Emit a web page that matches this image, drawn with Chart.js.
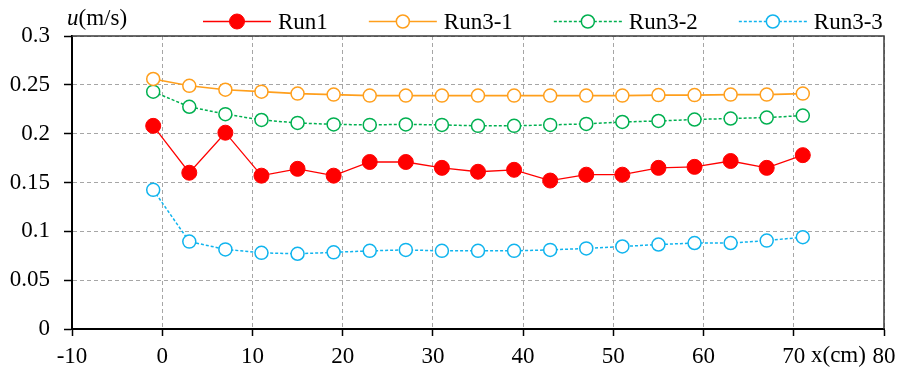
<!DOCTYPE html>
<html>
<head>
<meta charset="utf-8">
<script src="https://cdn.jsdelivr.net/npm/chart.js@4/dist/chart.umd.min.js"></script>
<style>
  html, body { margin: 0; padding: 0; background: #fff; }
  canvas { display: block; }
</style>
</head>
<body>
<canvas id="c" width="898" height="372"></canvas>
<script>
// ---- data ----
const xPositions = [-1, 3, 7, 11, 15, 19, 23, 27, 31, 35, 39, 43, 47, 51, 55, 59, 63, 67, 71];
const run1   = [0.208, 0.160, 0.201, 0.157, 0.164, 0.157, 0.171, 0.171, 0.165, 0.161, 0.163, 0.152, 0.158, 0.158, 0.165, 0.166, 0.172, 0.165, 0.178];
const run3_1 = [0.256, 0.249, 0.245, 0.243, 0.241, 0.240, 0.239, 0.239, 0.239, 0.239, 0.239, 0.239, 0.239, 0.239, 0.2395, 0.2395, 0.240, 0.240, 0.241];
const run3_2 = [0.243, 0.2275, 0.220, 0.214, 0.211, 0.2095, 0.209, 0.2095, 0.209, 0.208, 0.208, 0.209, 0.210, 0.212, 0.213, 0.2145, 0.2155, 0.2165, 0.2185];
const run3_3 = [0.1425, 0.0895, 0.0815, 0.078, 0.077, 0.0785, 0.080, 0.081, 0.080, 0.080, 0.080, 0.081, 0.0825, 0.0845, 0.0865, 0.088, 0.088, 0.0905, 0.094];
const seriesLabels = ['Run1', 'Run3-1', 'Run3-2', 'Run3-3'];
const xTicks = [-10, 0, 10, 20, 30, 40, 50, 60, 70, 80];
const yTicks = [0, 0.05, 0.1, 0.15, 0.2, 0.25, 0.3];
const yTickLabels = ['0', '0.05', '0.1', '0.15', '0.2', '0.25', '0.3'];
const yTitle = ['u', '(m/s)'];
const xTitle = 'x(cm)';

const FONT = '"Liberation Serif", "Times New Roman", serif';
const toPts = arr => arr.map((v, i) => ({ x: xPositions[i], y: v }));

const legendPlugin = {
  id: 'customLegend',
  afterDraw(chart) {
    const ctx = chart.ctx;
    ctx.save();
    ctx.font = '23px ' + FONT;
    let x = 203;
    const y = 21.5;
    const lineLen = 68;
    chart.data.datasets.forEach(ds => {
      ctx.strokeStyle = ds.borderColor;
      ctx.lineWidth = ds.borderWidth;
      ctx.setLineDash(ds.borderDash || []);
      ctx.beginPath(); ctx.moveTo(x, y); ctx.lineTo(x + lineLen, y); ctx.stroke();
      ctx.setLineDash([]);
      ctx.beginPath();
      ctx.arc(x + lineLen / 2, y, ds.pointRadius, 0, Math.PI * 2);
      ctx.fillStyle = ds.pointBackgroundColor; ctx.fill();
      ctx.lineWidth = ds.pointBorderWidth; ctx.strokeStyle = ds.pointBorderColor; ctx.stroke();
      ctx.fillStyle = '#000';
      ctx.textBaseline = 'alphabetic';
      ctx.textAlign = 'left';
      ctx.fillText(ds.label, x + lineLen + 7, 28.5);
      x += lineLen + 7 + ctx.measureText(ds.label).width + 41;
    });
    ctx.restore();
  }
};

const framePlugin = {
  id: 'frame',
  afterDraw(chart) {
    const { ctx, chartArea: a } = chart;
    ctx.save();
    ctx.strokeStyle = '#3a3a3a';
    ctx.lineWidth = 1.5;
    ctx.beginPath();
    ctx.moveTo(a.left, a.top); ctx.lineTo(a.right, a.top); ctx.lineTo(a.right, a.bottom);
    ctx.stroke();
    // titles
    ctx.fillStyle = '#000';
    ctx.textBaseline = 'alphabetic';
    ctx.textAlign = 'left';
    ctx.font = 'italic 23px ' + FONT;
    ctx.fillText(yTitle[0], 67, 25);
    const w = ctx.measureText(yTitle[0]).width;
    ctx.font = '23px ' + FONT;
    ctx.fillText(yTitle[1], 67 + w, 25);
    ctx.fillText(xTitle, 811, 362);
    ctx.restore();
  }
};

new Chart(document.getElementById('c'), {
  type: 'line',
  data: {
    datasets: [
      { label: seriesLabels[0], data: toPts(run1), borderColor: '#FF0000', borderWidth: 1.3,
        pointRadius: 7.5, pointBackgroundColor: '#FF0000', pointBorderColor: '#FF0000', pointBorderWidth: 1, borderDash: [] },
      { label: seriesLabels[1], data: toPts(run3_1), borderColor: '#FF9F1C', borderWidth: 1.6,
        pointRadius: 6.5, pointBackgroundColor: '#FFFFFF', pointBorderColor: '#FF9F1C', pointBorderWidth: 1.5, borderDash: [] },
      { label: seriesLabels[2], data: toPts(run3_2), borderColor: '#00B050', borderWidth: 1.5,
        pointRadius: 6.5, pointBackgroundColor: '#FFFFFF', pointBorderColor: '#00B050', pointBorderWidth: 1.5, borderDash: [3, 2] },
      { label: seriesLabels[3], data: toPts(run3_3), borderColor: '#10B4EE', borderWidth: 1.5,
        pointRadius: 6.5, pointBackgroundColor: '#FFFFFF', pointBorderColor: '#10B4EE', pointBorderWidth: 1.5, borderDash: [3, 2] }
    ]
  },
  options: {
    responsive: false,
    animation: false,
    events: [],
    layout: { padding: { top: 36, right: 14, left: 0, bottom: 0 } },
    plugins: { legend: { display: false }, tooltip: { enabled: false }, title: { display: false } },
    scales: {
      x: {
        type: 'linear', min: -10, max: 80,
        afterFit(s) { s.height = 43; s.paddingLeft = 0; s.paddingRight = 0; },
        afterBuildTicks(s) { s.ticks = xTicks.map(v => ({ value: v })); },
        ticks: { font: { family: FONT, size: 23 }, color: '#000', padding: 7, maxRotation: 0,
                 callback: v => String(v) },
        grid: { color: '#A6A6A6', lineWidth: 1, tickLength: 7, tickColor: '#000', tickWidth: 1.5, tickBorderDash: [] },
        border: { color: '#000', width: 2, dash: [4, 3] }
      },
      y: {
        type: 'linear', min: 0, max: 0.3,
        afterFit(s) { s.width = 72; s.paddingTop = 0; s.paddingBottom = 0; },
        afterBuildTicks(s) { s.ticks = yTicks.map(v => ({ value: v })); },
        ticks: { font: { family: FONT, size: 23 }, color: '#000', padding: 14,
                 callback: (v) => yTickLabels[yTicks.indexOf(v)] ?? String(v) },
        grid: { color: '#A6A6A6', lineWidth: 1, tickLength: 8, tickColor: '#000', tickWidth: 1.5, tickBorderDash: [] },
        border: { color: '#000', width: 2, dash: [4, 3] }
      }
    }
  },
  plugins: [legendPlugin, framePlugin]
});
</script>
</body>
</html>
